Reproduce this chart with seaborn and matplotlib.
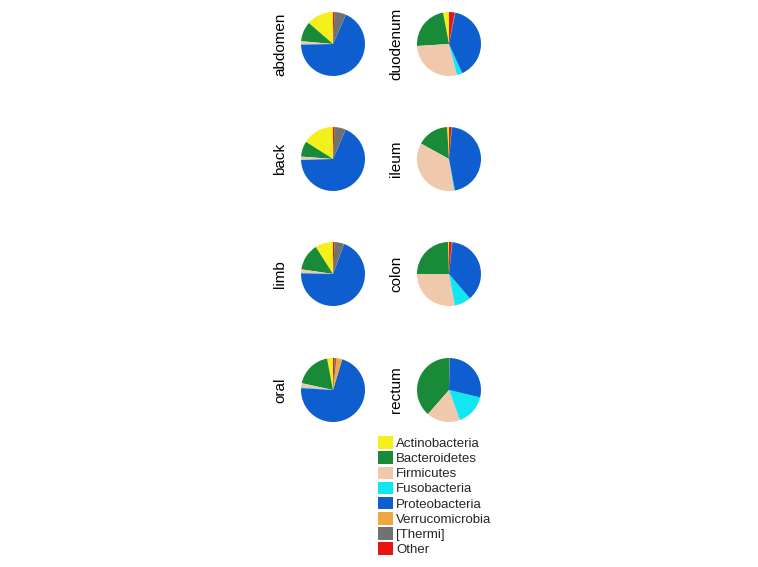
import matplotlib.pyplot as plt
import seaborn as sns
from matplotlib.patches import Patch

# Phylum order (legend order, also wedge order counter-clockwise from top)
phyla = [
    "Actinobacteria",
    "Bacteroidetes",
    "Firmicutes",
    "Fusobacteria",
    "Proteobacteria",
    "Verrucomicrobia",
    "[Thermi]",
    "Other",
]
colors = ["#f5ef1c", "#188a38", "#f0c8ab", "#12e6f0", "#0f5ed0", "#f0a83e", "#727272", "#e81414"]

# relative abundance (%) per site, in phyla order
abdomen = [13.6, 10.0, 1.5, 0.3, 68.0, 0.0, 5.8, 0.8]
back = [16.0, 7.8, 1.5, 0.2, 68.0, 0.0, 5.7, 0.8]
limb = [9.0, 13.6, 1.7, 0.3, 69.5, 0.0, 4.8, 0.8]
oral = [3.0, 18.5, 2.0, 0.5, 71.0, 2.8, 1.0, 0.8]
duodenum = [3.0, 23.0, 28.0, 2.8, 40.0, 0.0, 0.4, 2.8]
ileum = [1.0, 16.0, 35.5, 0.5, 45.5, 0.0, 0.3, 1.2]
colon = [0.5, 24.5, 28.0, 8.3, 37.0, 0.0, 0.3, 1.4]
rectum = [0.0, 38.6, 17.0, 15.7, 28.4, 0.0, 0.3, 0.0]

left_sites = ["abdomen", "back", "limb", "oral"]
right_sites = ["duodenum", "ileum", "colon", "rectum"]
values = {
    "abdomen": abdomen, "back": back, "limb": limb, "oral": oral,
    "duodenum": duodenum, "ileum": ileum, "colon": colon, "rectum": rectum,
}

sns.set_theme(style="white")
plt.rcParams["font.family"] = ["Liberation Sans", "DejaVu Sans"]

W, H = 758, 567
fig = plt.figure(figsize=(W / 100, H / 100), dpi=100)

col_x = [333, 449]
row_y = [44, 159, 274, 390]
r = 32

for ci, sites in enumerate([left_sites, right_sites]):
    for ri, site in enumerate(sites):
        cx, cy = col_x[ci], row_y[ri]
        ax = fig.add_axes([(cx - r) / W, 1 - (cy + r) / H, 2 * r / W, 2 * r / H])
        ax.pie(
            values[site],
            colors=colors,
            startangle=90,
            counterclock=True,
            radius=1,
            wedgeprops={"linewidth": 0},
        )
        ax.set_xlim(-1, 1)
        ax.set_ylim(-1, 1)
        ax.axis("off")
        fig.text(
            (cx - 53) / W, 1 - cy / H, site,
            rotation=90, ha="center", va="center", fontsize=11, color="black",
        )

handles = [Patch(facecolor=c, edgecolor="none") for c in colors]
fig.legend(
    handles, phyla,
    loc="upper left",
    bbox_to_anchor=(369 / W, 1 - 427 / H),
    frameon=False,
    fontsize=9.5,
    handlelength=1.1,
    handleheight=1.1,
    handletextpad=0.25,
    labelspacing=0.1,
    borderpad=0.2,
)

fig.savefig("out.png", dpi=100)
